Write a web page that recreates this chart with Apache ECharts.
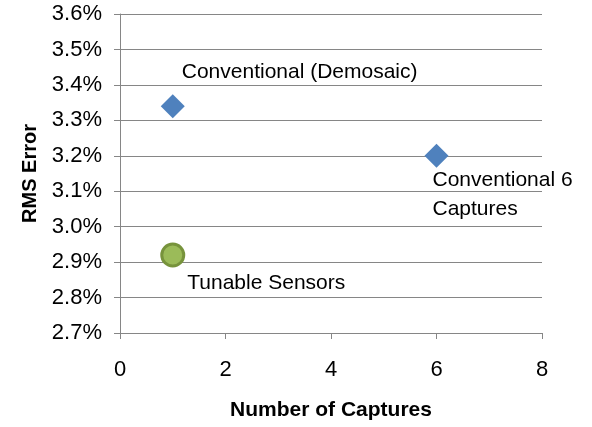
<!DOCTYPE html>
<html>
<head>
    <meta charset="utf-8" />
    <title>RMS Error</title>
</head>
<body style="margin:0">
<script src="https://cdn.jsdelivr.net/npm/echarts@6/dist/echarts.min.js"></script>
<div id="main" style="width: 592px;height:427px;"></div>
<script type="text/javascript">
    // data (RMS error in %)
    var pointNames = ['Conventional (Demosaic)', 'Conventional 6\nCaptures', 'Tunable Sensors'];
    var captures = [1, 6, 1];
    var rmsError = [3.34, 3.20, 2.92];

    var font = 'Liberation Sans';
    var labelStyle = [
        { position: [21, -22] },
        { position: [8, 51], lineHeight: 29 },
        { position: [27, 41] }
    ];

    var myChart = echarts.init(document.getElementById('main'));

    function item(i) {
        return {
            value: [captures[i], rmsError[i]],
            name: pointNames[i],
            label: Object.assign({
                show: true,
                formatter: '{b}',
                align: 'left',
                verticalAlign: 'middle',
                color: '#000',
                fontFamily: font,
                fontSize: 21
            }, labelStyle[i])
        };
    }

    var option = {
        animation: false,
        grid: { left: 120, right: 50, top: 14, bottom: 94 },
        xAxis: {
            type: 'value',
            min: 0,
            max: 8,
            interval: 2,
            name: 'Number of Captures',
            nameLocation: 'middle',
            nameGap: 67,
            nameTextStyle: { fontFamily: font, fontSize: 21, fontWeight: 'bold', color: '#000' },
            axisLine: { show: true, lineStyle: { color: '#868686' } },
            axisTick: { show: true, length: 6, lineStyle: { color: '#868686' } },
            axisLabel: { fontFamily: font, fontSize: 22, color: '#000', margin: 26 },
            splitLine: { show: false }
        },
        yAxis: {
            type: 'value',
            min: 2.7,
            max: 3.6,
            interval: 0.1,
            name: 'RMS Error',
            nameLocation: 'middle',
            nameGap: 80,
            nameTextStyle: { fontFamily: font, fontSize: 20, fontWeight: 'bold', color: '#000' },
            axisLine: { show: true, lineStyle: { color: '#868686' } },
            axisTick: { show: true, length: 6, lineStyle: { color: '#868686' } },
            axisLabel: {
                fontFamily: font, fontSize: 22, color: '#000', margin: 18,
                formatter: function (v) { return v.toFixed(1) + '%'; }
            },
            splitLine: { show: true, lineStyle: { color: '#868686' } }
        },
        series: [
            {
                type: 'scatter',
                symbol: 'diamond',
                symbolSize: 24,
                itemStyle: { color: '#4F81BD', opacity: 1 },
                data: [item(0), item(1)]
            },
            {
                type: 'scatter',
                symbol: 'circle',
                symbolSize: 22,
                itemStyle: { color: '#9BBB59', borderColor: '#77933C', borderWidth: 3, opacity: 1 },
                data: [item(2)]
            }
        ]
    };
    myChart.setOption(option);
</script>
</body>
</html>
